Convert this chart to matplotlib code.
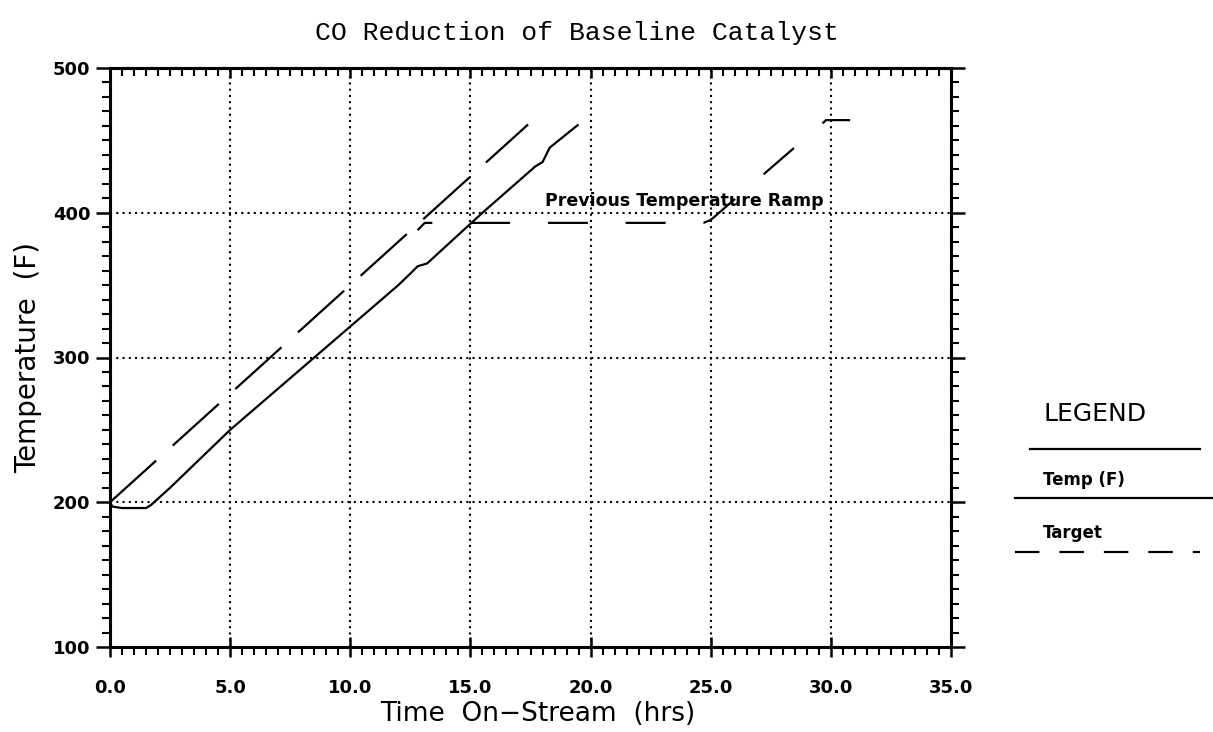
import matplotlib

matplotlib.use("Agg")

import matplotlib.pyplot as plt
from matplotlib.ticker import MultipleLocator, FormatStrFormatter

# measured temperature (solid)
temp_t = [0.0, 0.1, 0.5, 1.5, 1.7, 2.5, 5.0, 8.5, 12.0, 12.5, 12.8, 13.2, 15.5, 17.7, 18.0, 18.3, 19.5]
temp_f = [200, 197, 196, 196, 198, 210, 250, 300, 350, 358, 363, 365, 400, 432, 435, 445, 461]

# target ramp (dashed)
target_t = [0.0, 17.4]
target_f = [200, 461]

# previous temperature ramp (dashed)
prev_t = [12.8, 13.1, 24.7, 25.0, 29.6, 29.8, 30.8]
prev_f = [388, 393, 393, 395, 461, 464, 464]

W, H = 1213, 732
fig = plt.figure(figsize=(W / 100, H / 100), dpi=100)
ax = fig.add_axes([110 / W, 1 - 647 / H, (951 - 110) / W, (647 - 68) / H])

ax.plot(temp_t, temp_f, color="black", lw=1.6, solid_capstyle="butt")
(tl,) = ax.plot(target_t, target_f, color="black", lw=1.6)
tl.set_dashes((28, 10))
ax.plot(prev_t, prev_f, color="black", lw=1.6, linestyle=(10, (18, 17)))

ax.text(18.1, 408, "Previous Temperature Ramp", fontsize=12.5, fontweight="bold",
        va="center", ha="left", family="DejaVu Sans")

ax.set_xlim(0, 35)
ax.set_ylim(100, 500)
ax.xaxis.set_major_locator(MultipleLocator(5))
ax.xaxis.set_minor_locator(MultipleLocator(0.5))
ax.yaxis.set_major_locator(MultipleLocator(100))
ax.yaxis.set_minor_locator(MultipleLocator(10))
ax.xaxis.set_major_formatter(FormatStrFormatter("%.1f"))

ax.grid(True, which="major", color="black", lw=1.5, linestyle=(0, (1.0, 2.0)))

for s in ax.spines.values():
    s.set_linewidth(2.2)

ax.tick_params(axis="x", which="major", direction="inout", length=14, width=1.8,
               labelsize=13, pad=16, top=False)
ax.tick_params(axis="x", which="minor", direction="out", length=6, width=1.5, top=False)
ax.tick_params(axis="y", which="major", direction="out", length=10, width=1.8,
               labelsize=13, pad=4, right=True)
ax.tick_params(axis="y", which="minor", direction="out", length=6, width=1.5, right=True)

top = ax.secondary_xaxis("top")
top.xaxis.set_major_locator(MultipleLocator(5))
top.xaxis.set_minor_locator(MultipleLocator(0.5))
top.tick_params(which="major", direction="in", length=7, width=1.8, labeltop=False)
top.tick_params(which="minor", direction="in", length=6, width=1.5)
top.spines["top"].set_linewidth(2.2)

for lab in ax.get_xticklabels() + ax.get_yticklabels():
    lab.set_fontweight("bold")

ax.set_xlabel("Time  On\u2212Stream  (hrs)", fontsize=19)
ax.xaxis.set_label_coords(0.509, -0.093)
ax.set_ylabel("Temperature  (F)", fontsize=20, labelpad=8)

fig.text(577 / W, 1 - 33 / H, "CO Reduction of Baseline Catalyst", ha="center", va="center",
         fontsize=19, family="Liberation Mono")

# hand-drawn legend block on the right
fig.text(1095 / W, 1 - 414 / H, "LEGEND", ha="center", va="center", fontsize=18)
fig.add_artist(plt.Line2D([1030 / W, 1200 / W], [1 - 449 / H, 1 - 449 / H], color="black", lw=1.6))
fig.text(1043 / W, 1 - 480 / H, "Temp (F)", ha="left", va="center", fontsize=12, fontweight="bold")
fig.add_artist(plt.Line2D([1015 / W, 1213 / W], [1 - 498 / H, 1 - 498 / H], color="black", lw=1.6))
fig.text(1043 / W, 1 - 533 / H, "Target", ha="left", va="center", fontsize=12, fontweight="bold")
leg_dash = plt.Line2D([1015 / W, 1200 / W], [1 - 552 / H, 1 - 552 / H], color="black", lw=1.6)
leg_dash.set_dashes((11, 9))
fig.add_artist(leg_dash)

fig.savefig("out.png", dpi=100)
